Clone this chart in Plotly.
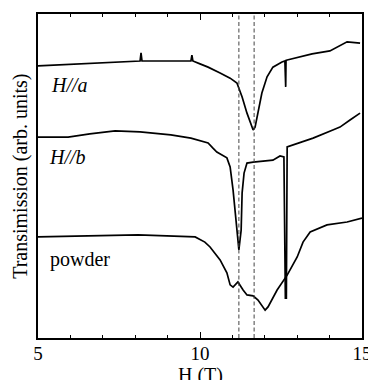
import plotly.graph_objects as go

# H//a
ha_H = [5.00, 5.68, 6.60, 7.69, 8.15, 8.18, 8.21, 9.07, 9.72, 9.75, 9.78, 10.00, 10.25, 10.62, 10.93, 11.14,
        11.30, 11.45, 11.57, 11.64, 11.70, 11.79, 11.91, 12.07, 12.25, 12.53, 12.62, 12.645, 12.655, 12.69,
        13.09, 13.46, 14.01, 14.32, 14.54, 14.94]
ha_T = [8.40, 8.43, 8.46, 8.52, 8.55, 8.80, 8.55, 8.55, 8.55, 8.73, 8.55, 8.46, 8.36, 8.18, 8.02, 7.87,
        7.44, 6.94, 6.57, 6.42, 6.51, 6.94, 7.56, 8.06, 8.36, 8.52, 8.55, 7.75, 8.57, 8.58,
        8.67, 8.77, 8.86, 9.01, 9.14, 9.10]

# H//b
hb_H = [5.00, 5.93, 6.60, 7.38, 8.15, 9.10, 9.72, 10.25, 10.40, 10.52, 10.83, 10.93, 11.02, 11.11, 11.17,
        11.20, 11.27, 11.30, 11.36, 11.45, 11.64, 12.25, 12.47, 12.59, 12.635, 12.665, 12.69, 13.49, 14.10,
        14.32, 14.63, 14.94]
hb_T = [6.20, 6.20, 6.30, 6.39, 6.36, 6.27, 6.17, 6.02, 5.86, 5.74, 5.56, 5.28, 4.57, 3.55, 2.81,
        2.72, 3.33, 4.48, 5.09, 5.40, 5.43, 5.49, 5.62, 5.59, 1.23, 1.23, 5.90, 6.17, 6.42,
        6.51, 6.73, 6.94]

# powder
pw_H = [5.00, 8.09, 9.85, 10.15, 10.31, 10.62, 10.83, 10.93, 11.02, 11.17, 11.33, 11.45, 11.64, 11.79,
        12.01, 12.10, 12.38, 12.69, 13.00, 13.18, 13.40, 13.92, 14.54, 15.00]
pw_T = [3.12, 3.18, 3.12, 2.96, 2.81, 2.41, 2.01, 1.64, 1.57, 1.73, 1.48, 1.33, 1.30, 1.17,
        0.86, 0.96, 1.48, 1.94, 2.50, 2.96, 3.27, 3.49, 3.58, 3.70]

dashed_H = [11.20, 11.67]
labels = ["<i>H//a</i>", "<i>H//b</i>", "powder"]
label_H = [5.33, 5.27, 5.30]
label_T = [7.81, 5.59, 2.41]

FONT = "Liberation Serif, serif"

fig = go.Figure()
for xs, ys in [(ha_H, ha_T), (hb_H, hb_T), (pw_H, pw_T)]:
    fig.add_trace(go.Scatter(x=xs, y=ys, mode="lines",
                             line=dict(color="black", width=1.7), showlegend=False))

for h in dashed_H:
    fig.add_shape(type="line", xref="x", yref="paper", x0=h, x1=h, y0=0, y1=1,
                  line=dict(color="#444444", width=1, dash="4px,2.5px"))

for t, xh, yt in zip(labels, label_H, label_T):
    fig.add_annotation(x=xh, y=yt, xref="x", yref="y", text=t, showarrow=False,
                       xanchor="left", yanchor="middle",
                       font=dict(family=FONT, size=20, color="black"))

fig.add_annotation(x=-0.056, y=0.5, xref="paper", yref="paper",
                   text="Transimission (arb. units)", textangle=-90, showarrow=False,
                   xanchor="center", yanchor="middle",
                   font=dict(family=FONT, size=20, color="black"))

fig.add_annotation(x=0.5, y=-0.115, xref="paper", yref="paper",
                   text="H (T)", showarrow=False,
                   xanchor="center", yanchor="middle",
                   font=dict(family=FONT, size=20, color="black"))

fig.update_layout(
    width=368, height=380,
    margin=dict(l=38, r=6, t=14, b=42),
    paper_bgcolor="white", plot_bgcolor="white",
    font=dict(family=FONT, size=19, color="black"),
    xaxis=dict(range=[5, 15], dtick=5, tick0=5, ticks="inside", ticklen=6, tickwidth=1,
               tickcolor="black", showline=True, linecolor="black", linewidth=1.5,
               mirror="allticks", showgrid=False, zeroline=False, automargin=False,
               ticklabeloverflow="allow", ticklabelstandoff=-3,
               minor=dict(dtick=1, ticks="inside", ticklen=3, tickcolor="black", showgrid=False),
               tickfont=dict(family=FONT, size=19)),
    yaxis=dict(range=[0, 10], showticklabels=False, ticks="", showline=True, linecolor="black",
               linewidth=1.5, mirror=True, showgrid=False, zeroline=False, automargin=False),
)

fig.write_html("out.html")
